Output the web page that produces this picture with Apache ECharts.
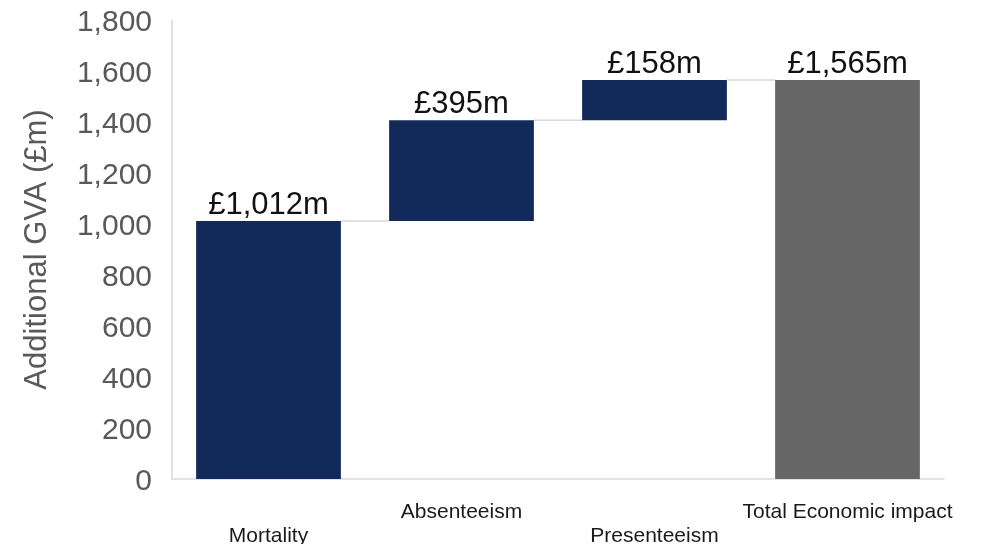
<!DOCTYPE html>
<html><head><meta charset="utf-8">
<script src="https://cdn.jsdelivr.net/npm/echarts@6/dist/echarts.min.js"></script>
<style>html,body{margin:0;padding:0;background:#fff}#c{width:981px;height:544px}</style>
</head><body><div id="c"></div>
<script>
const categories = ['Mortality', 'Absenteeism', 'Presenteeism', 'Total Economic impact'];
const values = [1012, 395, 158, 1565];
const isTotal = [false, false, false, true];
const yTicks = [0, 200, 400, 600, 800, 1000, 1200, 1400, 1600, 1800];

const bases = [];
const tops = [];
let run = 0;
values.forEach((v, i) => {
  if (isTotal[i]) { bases.push(0); tops.push(v); run = v; }
  else { bases.push(run); run += v; tops.push(run); }
});
const fmt = v => '£' + v.toLocaleString('en-GB') + 'm';
const FONT = '"Liberation Sans", Arial, sans-serif';

const chart = echarts.init(document.getElementById('c'), null, {renderer: 'canvas'});
chart.setOption({
  animation: false,
  grid: {left: 172, right: 37, top: 20, bottom: 65, containLabel: false, outerBoundsMode: 'none'},
  xAxis: {
    type: 'category', data: categories,
    axisLine: {show: true, lineStyle: {color: '#d9d9d9', width: 1.5}},
    axisTick: {show: false},
    axisLabel: {
      interval: 0, color: '#1a1a1a', fontFamily: FONT, fontSize: 21, lineHeight: 24, margin: 21,
      formatter: (v, i) => (i % 2 === 0 ? '\n' + v : v)
    }
  },
  yAxis: {
    type: 'value', min: yTicks[0], max: yTicks[yTicks.length - 1], interval: 200,
    name: 'Additional GVA (£m)', nameLocation: 'middle', nameGap: 119, nameRotate: 90,
    nameTextStyle: {color: '#595959', fontFamily: FONT, fontSize: 31},
    axisLine: {show: true, lineStyle: {color: '#d9d9d9', width: 1.5}},
    axisTick: {show: false},
    splitLine: {show: false},
    axisLabel: {color: '#595959', fontFamily: FONT, fontSize: 30, margin: 20,
      formatter: v => '{a|' + v.toLocaleString('en-GB') + '}',
      rich: {a: {color: '#595959', fontFamily: FONT, fontSize: 30, padding: [6, 0, 0, 0]}}}
  },
  series: [
    {
      type: 'bar', stack: 'w', barWidth: '75%', silent: true,
      itemStyle: {color: 'transparent'}, data: bases
    },
    {
      type: 'bar', stack: 'w', barWidth: '75%',
      data: values.map((v, i) => ({value: v, itemStyle: {color: isTotal[i] ? '#666666' : '#112a59'}})),
      label: {show: true, position: 'top', distance: 0, color: '#111', fontFamily: FONT, fontSize: 31,
        formatter: p => fmt(p.value)}
    },
    {
      type: 'custom', silent: true, z: 1,
      data: tops.slice(0, -1).map((t, i) => [i, t]),
      renderItem: (params, api) => {
        const i = api.value(0), t = api.value(1);
        const w = api.size([1, 0])[0] * 0.75;
        const p1 = api.coord([i, t]);
        const p2 = api.coord([i + 1, t]);
        return {type: 'line', shape: {x1: p1[0] + w / 2, y1: p1[1], x2: p2[0] - w / 2, y2: p2[1]},
          style: {stroke: '#d9d9d9', lineWidth: 1.5}};
      }
    }
  ]
});
</script></body></html>
